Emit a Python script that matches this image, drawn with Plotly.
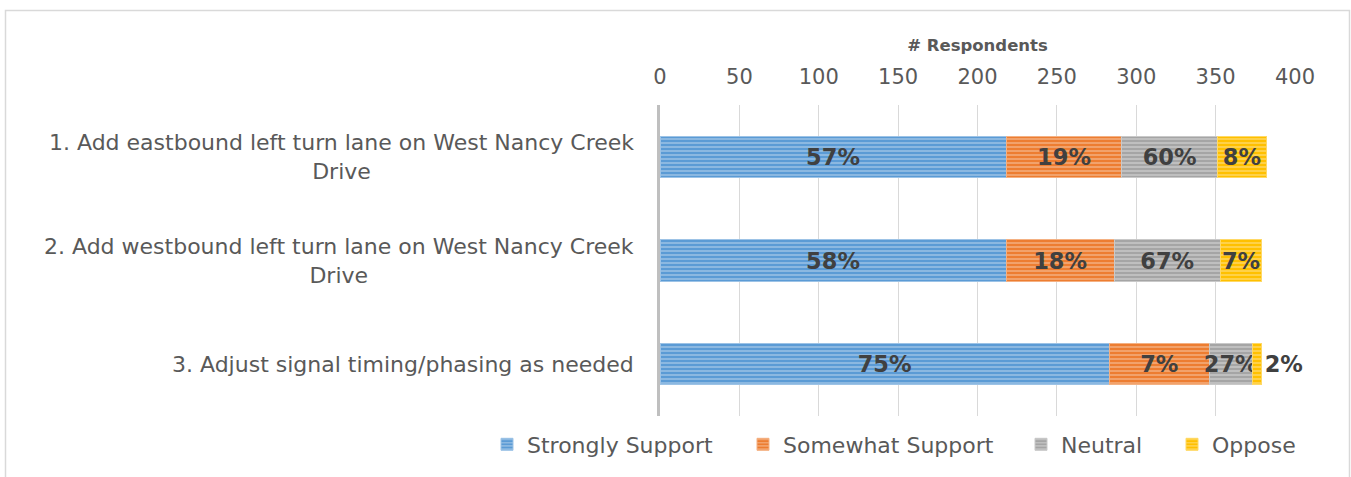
import plotly.graph_objects as go

# ---------------- data ----------------
categories = [
    "1. Add eastbound left turn lane on West Nancy Creek Drive",
    "2. Add westbound left turn lane on West Nancy Creek Drive",
    "3. Adjust signal timing/phasing as needed",
]
category_labels = [
    "1. Add eastbound left turn lane on West Nancy Creek<br>Drive",
    "2. Add westbound left turn lane on West Nancy Creek<br>Drive",
    "3. Adjust signal timing/phasing as needed",
]
series_names = ["Strongly Support", "Somewhat Support", "Neutral", "Oppose"]
strongly_support = [218, 218, 283]
somewhat_support = [73, 68, 63]
neutral = [60, 67, 27]
oppose = [31, 26, 6]
strongly_labels = ["57%", "58%", "75%"]
somewhat_labels = ["19%", "18%", "7%"]
neutral_labels = ["60%", "67%", "27%"]
oppose_labels = ["8%", "7%", "2%"]
x_ticks = [0, 50, 100, 150, 200, 250, 300, 350, 400]

# ---------------- styling ----------------
FONT = "DejaVu Sans"
base_colors = ["#5B9BD5", "#ED7D31", "#A5A5A5", "#FFC000"]
stripe_colors = ["#C5DCF1", "#F9CFB2", "#DEDEDE", "#FFE8A0"]
edge_colors = ["#9DC3E6", "#F4B183", "#C9C9C9", "#FFD966"]
legend_ids = ["legend", "legend2", "legend3", "legend4"]
legend_marker_px = [507, 763, 1041, 1192]   # legend symbol centres (px)

values = [strongly_support, somewhat_support, neutral, oppose]
labels = [strongly_labels, somewhat_labels, neutral_labels, oppose_labels]
positions = [
    ["inside"] * 3,
    ["inside"] * 3,
    ["inside"] * 3,
    ["inside", "inside", "outside"],
]

fig = go.Figure()
for name, vals, labs, pos, bc, sc, ec, lg in zip(series_names, values, labels, positions,
                                                  base_colors, stripe_colors, edge_colors, legend_ids):
    fig.add_trace(go.Bar(
        name=name,
        legend=lg,
        y=categories,
        x=vals,
        orientation="h",
        text=labs,
        textposition=pos,
        textangle=0,
        insidetextanchor="middle",
        textfont=dict(family=FONT, size=22.5, color="#404040", weight="bold"),
        marker=dict(
            color=bc,
            line=dict(color=ec, width=1),
            pattern=dict(shape="-", bgcolor=bc, fgcolor=sc, size=4, solidity=0.45, fillmode="overlay"),
        ),
        cliponaxis=False,
        hoverinfo="x+name",
    ))

annotations = []
for cat, lab in zip(categories, category_labels):
    annotations.append(dict(
        xref="paper", yref="y", x=0, y=cat, xshift=-24,
        xanchor="right", yanchor="middle", align="center",
        text=lab, showarrow=False,
        font=dict(family=FONT, size=22, color="#595959"),
    ))

L, R, T, B = 660, 56, 105, 61
W, H = 1351, 477
pw, ph = W - L - R, H - T - B

def px_x(px):
    return (px - L) / pw

def px_y(py):
    return (H - B - py) / ph

legend_common = dict(
    orientation="h",
    xref="container", yref="container",
    xanchor="left", yanchor="middle",
    y=1 - 444.5 / H,
    font=dict(family=FONT, size=22, color="#595959"),
    bgcolor="rgba(0,0,0,0)",
    borderwidth=0,
)
legend_layout = {}
for lg, mx in zip(legend_ids, legend_marker_px):
    legend_layout[lg] = dict(legend_common, x=(mx - 20) / W)

fig.update_layout(
    width=W, height=H,
    margin=dict(l=L, r=R, t=T, b=B, pad=0, autoexpand=False),
    barmode="stack",
    bargap=0.6,
    paper_bgcolor="white",
    plot_bgcolor="white",
    font=dict(family=FONT, color="#595959"),
    uniformtext=dict(minsize=22.5, mode="show"),
    showlegend=True,
    xaxis=dict(
        side="top",
        range=[0, 400],
        tickvals=x_ticks,
        ticktext=[str(v) for v in x_ticks],
        tickfont=dict(family=FONT, size=21, color="#595959"),
        ticklabelstandoff=16,
        showgrid=True,
        gridcolor="#D9D9D9",
        gridwidth=1,
        zeroline=False,
        showline=False,
        ticks="",
        title=dict(text="# Respondents", font=dict(family=FONT, size=16.5, color="#595959", weight="bold"), standoff=9),
    ),
    yaxis=dict(
        categoryorder="array",
        categoryarray=categories,
        autorange="reversed",
        showticklabels=False,
        showgrid=False,
        zeroline=False,
        showline=True,
        linecolor="#BFBFBF",
        linewidth=3,
        ticks="",
    ),
    annotations=annotations,
    shapes=[dict(
        type="rect", xref="paper", yref="paper",
        x0=px_x(5.5), x1=px_x(1349.5), y0=px_y(520), y1=px_y(10.5),
        line=dict(color="#D9D9D9", width=1.5), fillcolor="rgba(0,0,0,0)", layer="below",
    )],
    **legend_layout,
)

fig.write_html(
    "out.html",
    config={"displayModeBar": False},
    post_script="document.body.style.margin='0';document.body.style.overflow='hidden';",
)
